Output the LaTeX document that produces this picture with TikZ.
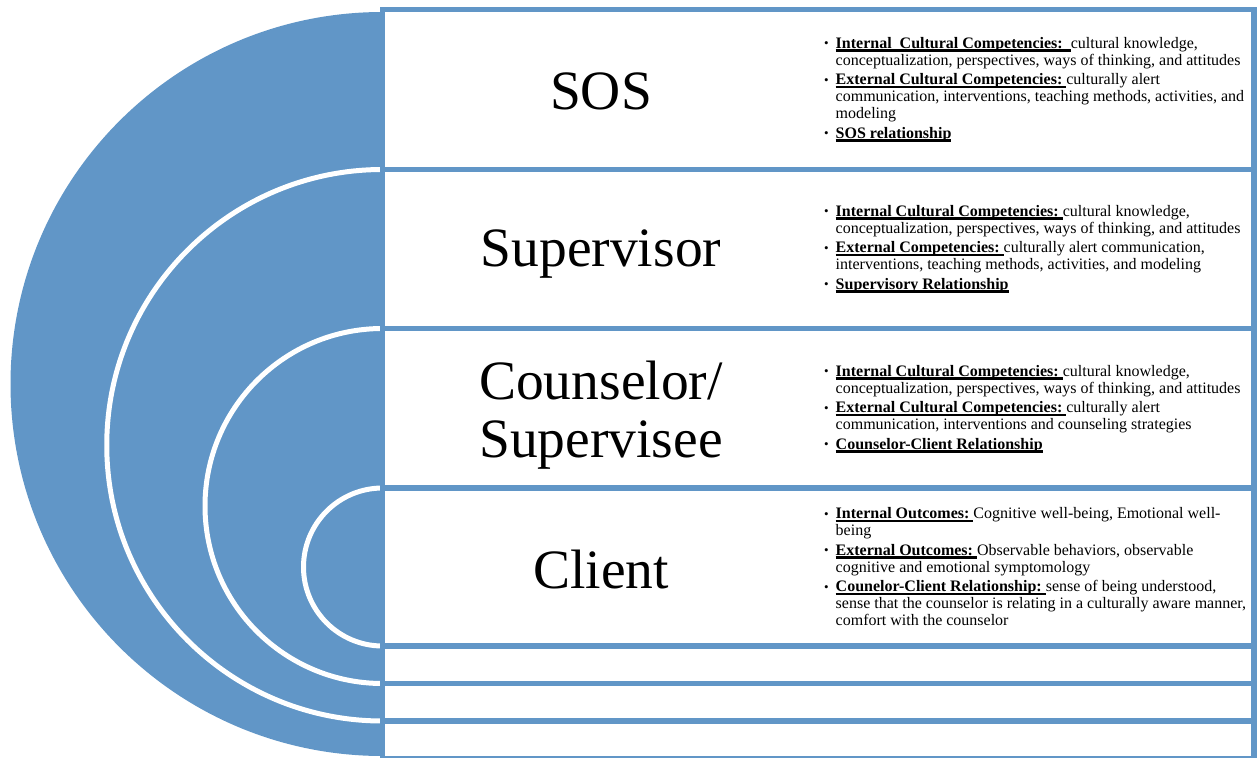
\documentclass[tikz,border=0pt]{standalone}
\usepackage{fontspec}
\setmainfont{Liberation Serif}
\definecolor{ringblue}{RGB}{97,150,199}
% bold heading with a heavy underline
\newcommand\ulb[1]{\setbox0=\hbox{\bfseries #1}\rlap{\rule[-3.4pt]{\wd0}{2.4pt}}\box0}
% hanging bullet and continuation indent
\newcommand\itembul{\makebox[11.5pt][l]{\raisebox{0.8pt}{\fontsize{13}{13}\selectfont •}}}
\newcommand\contind{\hspace*{11.5pt}}
\begin{document}
\begin{tikzpicture}[x=1pt,y=-1pt,
  ring/.style={white,line width=5pt},
  boxline/.style={draw=ringblue,line width=5.5pt},
  title/.style={font=\fontsize{55.5}{58}\selectfont,anchor=base,inner sep=0pt},
  notes/.style={font=\fontsize{16}{17}\selectfont,align=left,anchor=west,inner sep=0pt}]
\useasboundingbox (0,0) rectangle (1257,757);

% nested half-rings
\begin{scope}
  \clip (0,0) rectangle (382.5,757);
  \fill[ringblue] (382.5,384) circle[radius=372pt];
  \draw[ring] (382.5,445.25) circle[radius=275.75pt];
  \draw[ring] (382.5,506) circle[radius=177.5pt];
  \draw[ring] (382.5,567) circle[radius=79pt];
\end{scope}

% stacked boxes
\fill[white] (382.5,9.5) rectangle (1254,757.5);
\draw[boxline] (382.5,9.5) rectangle (1254,169.5);
\draw[boxline] (382.5,169.5) rectangle (1254,328.5);
\draw[boxline] (382.5,328.5) rectangle (1254,488);
\draw[boxline] (382.5,488) rectangle (1254,646);
\draw[boxline] (382.5,646) rectangle (1254,683.5);
\draw[boxline] (382.5,683.5) rectangle (1254,721);
\draw[boxline] (382.5,721) rectangle (1254,759);

% level titles
\node[title] (sos) at (601,110) {SOS};
\node[title] (sup) at (601,266) {Supervisor};
\node[title] (cou1) at (601,399) {Counselor/};
\node[title] (cou2) at (601,457) {Supervisee};
\node[title] (cli) at (601,588) {Client};

% descriptions
\node[notes] (sosnotes) at (824,89.5) {%
\itembul\ulb{Internal\ \ Cultural Competencies:\ \ }cultural knowledge,\\
\contind conceptualization, perspectives, ways of thinking, and attitudes\\[2.5pt]
\itembul\ulb{External Cultural Competencies:\ }culturally alert\\
\contind communication, interventions, teaching methods, activities, and\\
\contind modeling\\[2.5pt]
\itembul\ulb{SOS relationship}};

\node[notes] (supnotes) at (824,249) {%
\itembul\ulb{Internal Cultural Competencies:\ }cultural knowledge,\\
\contind conceptualization, perspectives, ways of thinking, and attitudes\\[2.5pt]
\itembul\ulb{External Competencies:\ }culturally alert communication,\\
\contind interventions, teaching methods, activities, and modeling\\[2.5pt]
\itembul\ulb{Supervisory Relationship}};

\node[notes] (counotes) at (824,409) {%
\itembul\ulb{Internal Cultural Competencies:\ }cultural knowledge,\\
\contind conceptualization, perspectives, ways of thinking, and attitudes\\[2.5pt]
\itembul\ulb{External Cultural Competencies:\ }culturally alert\\
\contind communication, interventions and counseling strategies\\[2.5pt]
\itembul\ulb{Counselor-Client Relationship}};

\node[notes] (clinotes) at (824,567) {%
\itembul\ulb{Internal Outcomes:\ }Cognitive well-being, Emotional well-\\
\contind being\\[2.5pt]
\itembul\ulb{External Outcomes:\ }Observable behaviors, observable\\
\contind cognitive and emotional symptomology\\[2.5pt]
\itembul\ulb{Counelor-Client Relationship:\ }sense of being understood,\\
\contind sense that the counselor is relating in a culturally aware manner,\\
\contind comfort with the counselor};
\end{tikzpicture}
\end{document}
